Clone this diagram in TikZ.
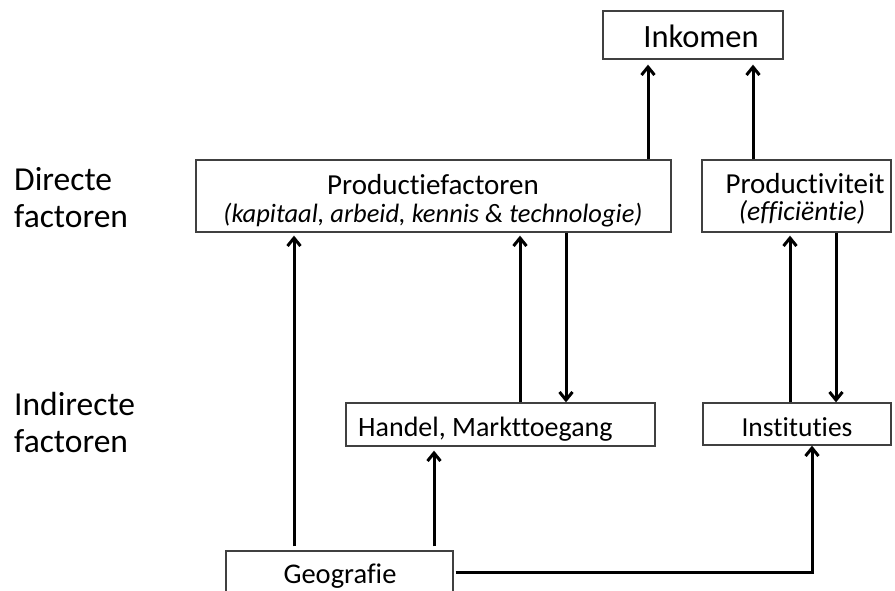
\documentclass[tikz,border=0pt]{standalone}
\usepackage{fontspec}
\setmainfont{Carlito}[Ligatures=NoCommon]
\usetikzlibrary{arrows.meta}
\definecolor{boxgray}{RGB}{64,64,64}
\begin{document}
\begin{tikzpicture}[x=1pt,y=-1pt,
  box/.style={draw=boxgray, line width=1.3pt, inner sep=0pt, fill=white},
  arr/.style={line width=3pt, -{Straight Barb[length=8pt,width=13pt]}},
  lbl/.style={anchor=base, inner sep=0pt},
  side/.style={anchor=base west, inner sep=0pt, font=\fontsize{33.5}{40}\selectfont},
]
\useasboundingbox (0,0) rectangle (895,590);
\clip (0,0) rectangle (895,590);

% boxes
\node[box, minimum width=180pt, minimum height=48pt] (ink) at (693,35) {};
\node[box, minimum width=475pt, minimum height=72pt] (prod) at (433.5,196) {};
\node[box, minimum width=189pt, minimum height=72pt] (prodv) at (796.5,196) {};
\node[box, minimum width=309pt, minimum height=43pt] (handel) at (500.5,424.5) {};
\node[box, minimum width=188pt, minimum height=42pt] (inst) at (797,424) {};
\node[box, minimum width=227pt, minimum height=60pt] (geo) at (339.5,581) {};

% texts
\node[lbl, font=\fontsize{32.5}{38}\selectfont] (tink) at (701,47) {Inkomen};
\node[lbl, font=\fontsize{29}{34}\selectfont] (tprod) at (433,194) {Productiefactoren};
\node[lbl, font=\fontsize{26.5}{32}\selectfont\itshape] (tprod2) at (433,222) {(kapitaal, arbeid, kennis \& technologie)};
\node[lbl, font=\fontsize{29}{34}\selectfont] (tprodv) at (805,193) {Productiviteit};
\node[lbl, font=\fontsize{27.5}{32}\selectfont\itshape] (tprodv2) at (802,220) {(efficiëntie)};
\node[anchor=base west, inner sep=0pt, font=\fontsize{28}{32}\selectfont] (thandel) at (358,436) {Handel, Markttoegang};
\node[lbl, font=\fontsize{27.5}{32}\selectfont] (tinst) at (797,436) {Instituties};
\node[lbl, font=\fontsize{28.5}{32}\selectfont] (tgeo) at (340,583) {Geografie};

\node[side] (ld1) at (14,190) {Directe};
\node[side] (ld2) at (14,227) {factoren};
\node[side] (li1) at (14,415) {Indirecte};
\node[side] (li2) at (14,452) {factoren};

% x positions of connectors
\coordinate (xa) at (648,0);
\coordinate (xb) at (753,0);
\coordinate (xc) at (294,0);
\coordinate (xd) at (520,0);
\coordinate (xe) at (566,0);
\coordinate (xf) at (790,0);
\coordinate (xg) at (836,0);
\coordinate (xh) at (434,0);
\coordinate (xi) at (812,0);
\coordinate (yh) at (0,572);

% connectors
\draw[arr, shorten >=5pt] (prod.north -| xa) -- (ink.south -| xa);
\draw[arr, shorten >=5pt] (prodv.north -| xb) -- (ink.south -| xb);
\draw[arr, shorten <=4pt, shorten >=3pt] (geo.north -| xc) -- (prod.south -| xc);
\draw[arr, shorten >=3pt] (handel.north -| xd) -- (prod.south -| xd);
\draw[arr] (prod.south -| xe) -- (handel.north -| xe);
\draw[arr, shorten >=3pt] (inst.north -| xf) -- (prodv.south -| xf);
\draw[arr] (prodv.south -| xg) -- (inst.north -| xg);
\draw[arr, shorten <=4pt, shorten >=4pt] (geo.north -| xh) -- (handel.south -| xh);
\draw[arr, shorten <=2pt] (geo.east |- yh) -| (inst.south -| xi);
\end{tikzpicture}
\end{document}
